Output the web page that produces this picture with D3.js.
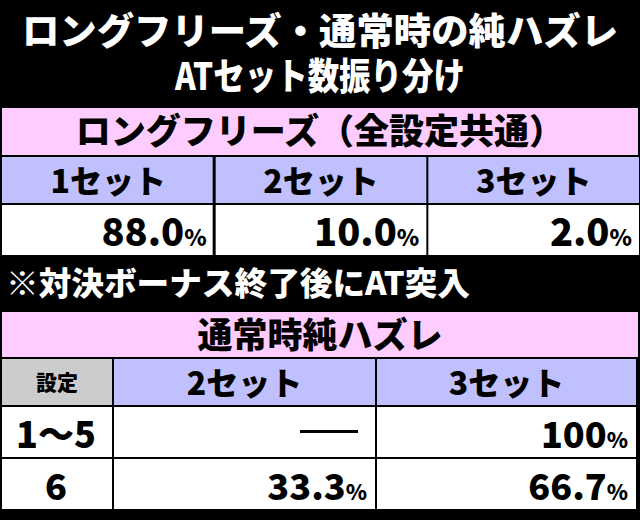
<!DOCTYPE html><html><head><meta charset="utf-8"><script src="https://cdn.jsdelivr.net/npm/d3@7"></script>
<style>body{margin:0;background:#000}svg text{font-family:"Noto Sans CJK JP";font-weight:900}</style></head><body><svg id="c" width="640" height="520"></svg>
<script>
const titleLines=["ロングフリーズ・通常時の純ハズレ","ATセット数振り分け"];
const t1Title="ロングフリーズ（全設定共通）";
const t1Cats=["1セット","2セット","3セット"];
const t1Vals=["88.0","10.0","2.0"];
const note="※対決ボーナス終了後にAT突入";
const t2Title="通常時純ハズレ";
const t2Head=["設定","2セット","3セット"];
const t2Rows=[["1～5",null,"100"],["6","33.3","66.7"]];
const svg=d3.select("#c");
svg.append("rect").attr("width",640).attr("height",520).attr("fill","#000");
svg.selectAll(".tl").data(titleLines).join("text").attr("x",320).attr("y",(d,i)=>[45,90][i]).attr("text-anchor","middle").attr("fill","#fff").attr("font-size",37).attr("textLength",(d,i)=>i?290:596).attr("lengthAdjust","spacingAndGlyphs").text(d=>d);
function cell(x,y,w,h,fill){svg.append("rect").attr("x",x).attr("y",y).attr("width",w).attr("height",h).attr("fill",fill);}
function txt(x,y,s,size,anchor,pct){const t=svg.append("text").attr("x",x).attr("y",y).attr("font-size",size).attr("text-anchor",anchor).attr("fill","#000");t.append("tspan").text(s);if(pct)t.append("tspan").attr("font-size",size*0.6).text("%");return t;}
// table 1
cell(2,108,636,47,"#ffccff");txt(320,144,t1Title,35,"middle");
const x1=d3.scaleBand().domain(d3.range(3)).range([2,640]);
t1Cats.forEach((c,i)=>{cell(x1(i)+(i?1:0),157,x1.bandwidth()-2,46,"#c0c0ff");txt(x1(i)+x1.bandwidth()/2,193,c,32,"middle");
 cell(x1(i)+(i?1:0),205,x1.bandwidth()-2,50,"#fff");txt(x1(i)+x1.bandwidth()-8,246,t1Vals[i],38,"end",true);});
svg.append("text").attr("x",6).attr("y",295).attr("fill","#fff").attr("font-size",32).attr("textLength",464).attr("lengthAdjust","spacingAndGlyphs").text(note);
// table 2
cell(2,312,636,45,"#ffccff");txt(320,348,t2Title,35,"middle");
const colX=[2,114,377,638];
t2Head.forEach((c,i)=>{cell(colX[i],359,colX[i+1]-colX[i]-2,46,i?"#c0c0ff":"#cccccc");txt((colX[i]+colX[i+1])/2-1,i?395:390,c,i?32:21,"middle");});
t2Rows.forEach((r,j)=>{const y=407+j*52;r.forEach((v,i)=>{cell(colX[i],y,colX[i+1]-colX[i]-2,50,"#fff");
 if(i==0)txt(56,y+41,v,36,"middle");else if(v==null)svg.append("rect").attr("x",300).attr("y",y+23).attr("width",58).attr("height",3).attr("fill","#000");
 else txt(colX[i+1]-10,y+41,v,36,"end",true);});});
</script></body></html>
